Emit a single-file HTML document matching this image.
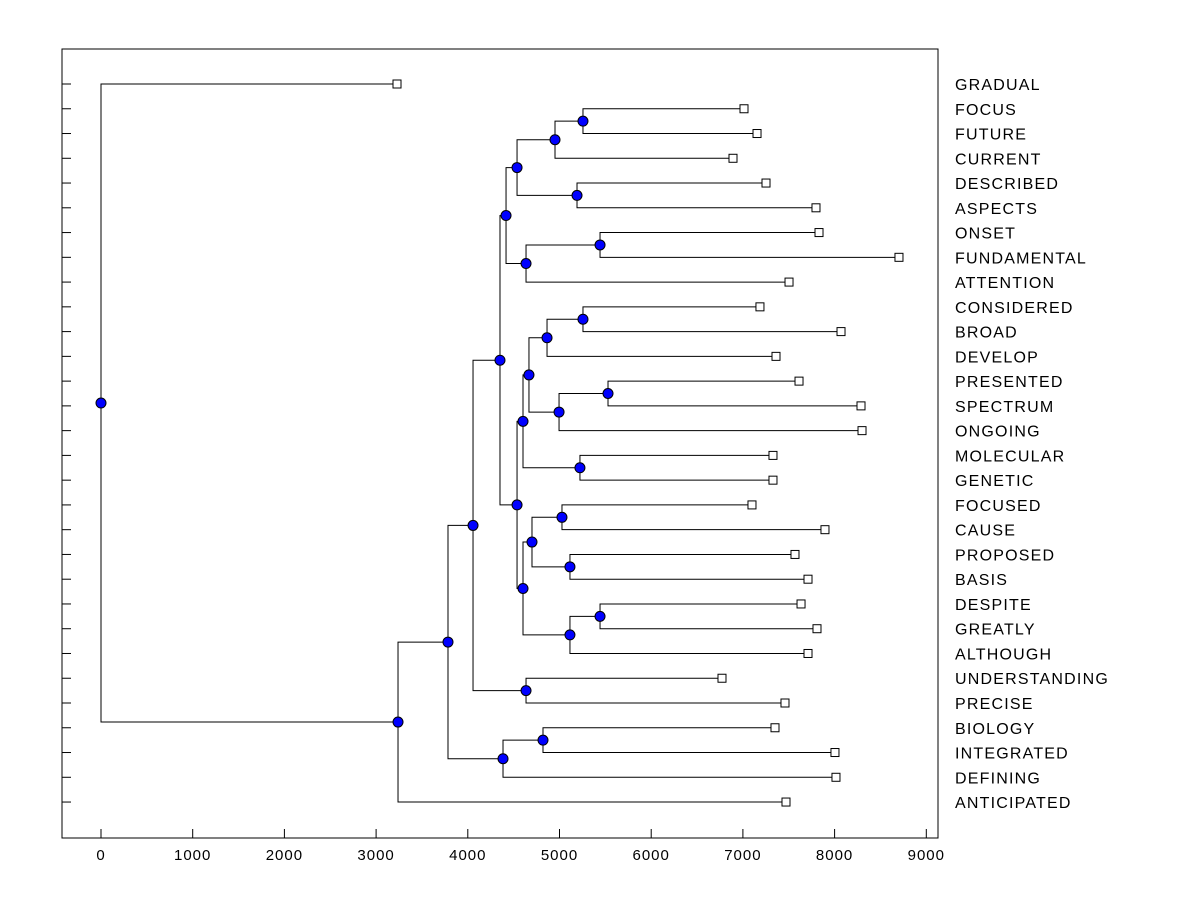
<!DOCTYPE html>
<html><head><meta charset="utf-8"><style>
body{margin:0;background:#fff}
svg{display:block;font-family:"Liberation Sans",Arial,sans-serif}
</style></head><body>
<svg id="chart" width="1200" height="900">
<rect x="62" y="49" width="876" height="789" fill="none" stroke="#000" stroke-width="1"/>
<g id="axis"></g>
<g id="yticks"></g>
<g id="links"></g>
<g id="marks"></g>
<g id="labels"></g>
</svg>
<script>
const leafNames=["GRADUAL","FOCUS","FUTURE","CURRENT","DESCRIBED","ASPECTS","ONSET","FUNDAMENTAL","ATTENTION","CONSIDERED","BROAD","DEVELOP","PRESENTED","SPECTRUM","ONGOING","MOLECULAR","GENETIC","FOCUSED","CAUSE","PROPOSED","BASIS","DESPITE","GREATLY","ALTHOUGH","UNDERSTANDING","PRECISE","BIOLOGY","INTEGRATED","DEFINING","ANTICIPATED"];
const leafValues=[3228,7012,7154,6892,7252,7797,7830,8702,7503,7186,8070,7361,7612,8288,8299,7328,7328,7099,7895,7568,7710,7634,7808,7710,6772,7459,7350,8004,8015,7470];
const mergeLeft=[1,30,4,31,6,34,33,9,37,12,39,38,15,41,17,19,44,21,47,46,43,36,24,51,26,54,53,56,0];
const mergeRight=[2,3,5,32,7,8,35,10,11,13,14,40,16,42,18,20,45,22,23,48,49,50,25,52,27,28,55,29,57];
const mergeHeights=[5256,4951,5191,4537,5442,4635,4417,5256,4864,5529,4995,4667,5223,4602,5027,5114,4700,5442,5114,4602,4537,4351,4635,4057,4820,4384,3784,3239,0];
const xTicks=[0,1000,2000,3000,4000,5000,6000,7000,8000,9000];

const NS="http://www.w3.org/2000/svg";
const X=v=>101+v*0.0917;
const Y=i=>84+i*24.76;
function mk(tag,attrs,parent){const e=document.createElementNS(NS,tag);for(const k in attrs)e.setAttribute(k,attrs[k]);document.getElementById(parent).appendChild(e);return e;}

xTicks.forEach(t=>{
  const l=mk('line',{x1:X(t),x2:X(t),y1:829,y2:838,stroke:'#000'},'axis');
  
  
  const tx=mk('text',{x:X(t),y:860,'text-anchor':'middle','font-size':'15','letter-spacing':'1'},'axis');
  tx.textContent=t;
  
  
});

const nx=[],ny=[];
leafNames.forEach((n,i)=>{nx[i]=leafValues[i];ny[i]=Y(i);});
mergeHeights.forEach((h,k)=>{const id=leafNames.length+k;nx[id]=h;ny[id]=(ny[mergeLeft[k]]+ny[mergeRight[k]])/2;});

mergeHeights.forEach((h,k)=>{
  const a=mergeLeft[k],b=mergeRight[k],x=X(h);
  const p=mk('path',{d:`M${X(nx[a])},${ny[a]}H${x}V${ny[b]}H${X(nx[b])}`,fill:'none',stroke:'#000','stroke-width':1},'links');
  
  
});
mergeHeights.forEach((h,k)=>{
  const id=leafNames.length+k;
  const c=mk('circle',{cx:X(h),cy:ny[id],r:5,fill:'#0000ff',stroke:'#000','stroke-width':1},'marks');
  
  
});
leafNames.forEach((n,i)=>{
  const t=mk('line',{x1:62,x2:71,y1:Y(i),y2:Y(i),stroke:'#000'},'yticks');
  
  
  const r=mk('rect',{x:X(leafValues[i])-4,y:Y(i)-4,width:8,height:8,fill:'#fff',stroke:'#000','stroke-width':1},'marks');
  
  
  const tx=mk('text',{x:955,y:Y(i)+6,'font-size':'16','letter-spacing':'1.2'},'labels');
  tx.textContent=n;
  
  
});
</script>
</body></html>
